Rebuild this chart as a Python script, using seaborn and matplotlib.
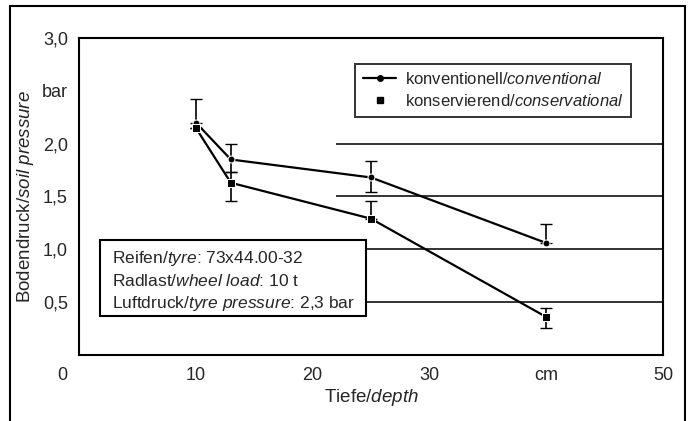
import numpy as np
import pandas as pd
import matplotlib
matplotlib.use('Agg')
import matplotlib.pyplot as plt
from matplotlib.lines import Line2D
from matplotlib.patches import Rectangle
import seaborn as sns

sns.set_style('white')
plt.rcParams['font.family'] = ['Liberation Sans', 'DejaVu Sans']
plt.rcParams['mathtext.fontset'] = 'custom'
plt.rcParams['mathtext.rm'] = 'Liberation Sans'
plt.rcParams['mathtext.it'] = 'Liberation Sans:italic'

# data
depth = [10, 13, 25, 40]
konv = [2.20, 1.85, 1.68, 1.06]          # konventionell / conventional
konv_err_lo = [0.0, 0.12, 0.14, 0.0]
konv_err_hi = [0.22, 0.15, 0.16, 0.18]
kons = [2.15, 1.63, 1.29, 0.36]          # konservierend / conservational
kons_err_lo = [0.0, 0.17, 0.0, 0.10]
kons_err_hi = [0.0, 0.10, 0.17, 0.08]

xticks = [0, 10, 20, 30, 40, 50]
xticklabels = ['', '10', '20', '30', 'cm', '50']
yticks = [0.5, 1.0, 1.5, 2.0, 2.5, 3.0]
yticklabels = ['0,5', '1,0', '1,5', '2,0', 'bar', '3,0']
grid_y = [0.5, 1.0, 1.5, 2.0]

box_lines = ['Reifen/$\\it{tyre}$: 73x44.00-32',
             'Radlast/$\\it{wheel\\ load}$: 10 t',
             'Luftdruck/$\\it{tyre\\ pressure}$: 2,3 bar']

df = pd.DataFrame({'depth': depth, 'konv': konv, 'kons': kons})

fig = plt.figure(figsize=(6.94, 4.21), dpi=100)
ax = fig.add_axes([0.1138, 0.1568, 0.8415, 0.7530])

# outer frame of the figure
fig.patches.append(Rectangle((10 / 694, -0.05), 675 / 694, 1.05 - 6 / 421,
                             transform=fig.transFigure, fill=False,
                             edgecolor='black', lw=1.5))

# partial horizontal guide lines
ax.hlines(grid_y, 22, 50, color='#333333', lw=1.4, zorder=1)

ax.errorbar(depth, konv, yerr=[konv_err_lo, konv_err_hi], fmt='none',
            ecolor='black', elinewidth=1.2, capsize=4, zorder=2)
ax.errorbar(depth, kons, yerr=[kons_err_lo, kons_err_hi], fmt='none',
            ecolor='black', elinewidth=1.2, capsize=4, zorder=2)
sns.lineplot(data=df, x='depth', y='konv', ax=ax, color='black', lw=1.6,
             marker='o', markersize=5, zorder=3)
sns.lineplot(data=df, x='depth', y='kons', ax=ax, color='black', lw=1.6,
             marker='s', markersize=6, zorder=3)

# info box
ax.add_patch(Rectangle((1.8, 0.37), 22.8, 0.715, facecolor='white',
                       edgecolor='black', lw=1.5, zorder=4))
for i, t in enumerate(box_lines):
    ax.text(2.8, 0.91 - i * 0.21, t, fontsize=12.5, va='center', zorder=5)

ax.set_xlim(0, 50)
ax.set_ylim(0, 3.0)
ax.set_xticks(xticks)
ax.set_xticklabels(xticklabels, fontsize=13)
ax.set_yticks(yticks)
ax.set_yticklabels(yticklabels, fontsize=13)
ax.text(-1.4, -0.19, '0', fontsize=13, ha='center', va='center')
ax.tick_params(direction='in', length=4, width=1.2, color='black')
ax.tick_params(axis='x', pad=9)
ax.tick_params(axis='y', pad=8)
for s in ax.spines.values():
    s.set_color('black')
    s.set_linewidth(1.5)

ax.set_xlabel('Tiefe/$\\it{depth}$', fontsize=13.5, labelpad=2)
ax.set_ylabel('Bodendruck/$\\it{soil\\ pressure}$', fontsize=13.5, labelpad=4)

handles = [Line2D([], [], color='black', lw=1.6, marker='o', markersize=4),
           Line2D([], [], color='black', lw=0, marker='s', markersize=5)]
labels = ['konventionell/$\\it{conventional}$',
          'konservierend/$\\it{conservational}$']
leg = ax.legend(handles, labels, loc='upper left', bbox_to_anchor=(0.459, 0.945),
                fontsize=12, frameon=True, fancybox=False, borderpad=0.45,
                handlelength=2.0, handletextpad=0.5, labelspacing=0.35)
leg.get_frame().set_edgecolor('black')
leg.get_frame().set_linewidth(1.4)

fig.savefig('out.png', dpi=100)
